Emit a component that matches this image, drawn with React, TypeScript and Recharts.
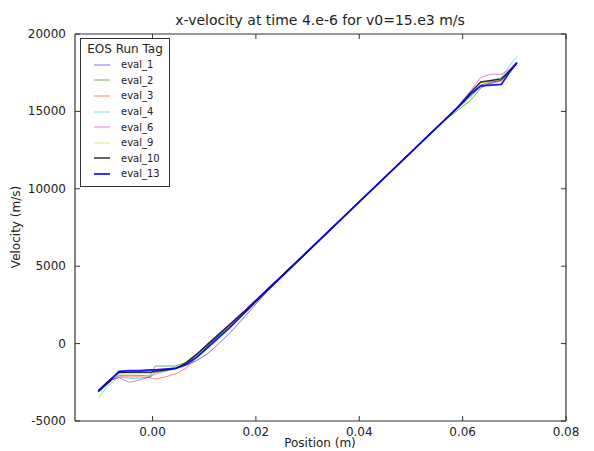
import { LineChart, Line, XAxis, YAxis } from "recharts";

// positions (m) shared by every run
const positions = [
  -0.0105, -0.0085, -0.0065, -0.0045, -0.0025, -0.0005, 0.0005, 0.0025, 0.0045,
  0.0065, 0.0085, 0.0105, 0.0125, 0.015, 0.018, 0.022, 0.03, 0.04, 0.05, 0.056,
  0.059, 0.0615, 0.0635, 0.0655, 0.0675, 0.069, 0.0705,
];

// x-velocity (m/s) per EOS run
const eval1 = [-3100, -2400, -1900, -1850, -1800, -1750, -1700, -1650, -1550, -1400, -1100, -700, -100, 700, 1800, 3300, 5900, 9150, 12350, 14250, 15200, 16000, 16600, 16800, 17000, 17600, 18200];
const eval2 = [-3050, -2500, -2050, -2050, -2050, -2100, -1450, -1450, -1450, -1200, -700, -150, 400, 1150, 2100, 3450, 5980, 9170, 12380, 14300, 15050, 15700, 16500, 16900, 17000, 17600, 18100];
const eval3 = [-3000, -2400, -2150, -2150, -2150, -2200, -2300, -2150, -1950, -1600, -900, -250, 450, 1250, 2200, 3450, 5970, 9160, 12370, 14300, 15250, 16100, 16700, 16900, 17000, 17500, 18100];
const eval4 = [-3500, -2700, -2150, -2250, -2250, -2150, -2000, -1800, -1650, -1400, -800, -200, 400, 1150, 2100, 3400, 5950, 9160, 12360, 14280, 15200, 15900, 16700, 17000, 17200, 17900, 18550];
const eval6 = [-3050, -2400, -2200, -2500, -2350, -2150, -1900, -1750, -1600, -1300, -700, -50, 550, 1300, 2200, 3450, 5980, 9170, 12370, 14300, 15300, 16300, 17200, 17400, 17400, 17700, 18200];
const eval9 = [-3050, -2400, -1950, -1950, -1950, -1950, -1850, -1750, -1600, -1300, -750, -150, 450, 1200, 2150, 3420, 5960, 9160, 12360, 14280, 15250, 16200, 16850, 17000, 17100, 17600, 18100];
const eval10 = [-3050, -2400, -1850, -1850, -1850, -1850, -1800, -1700, -1600, -1250, -700, -100, 500, 1250, 2150, 3420, 5960, 9160, 12360, 14280, 15250, 16200, 16900, 17000, 17100, 17600, 18100];
const eval13 = [-3100, -2500, -1800, -1750, -1750, -1700, -1700, -1650, -1600, -1350, -900, -300, 300, 1050, 2050, 3380, 5940, 9150, 12350, 14270, 15230, 16100, 16650, 16700, 16750, 17500, 18150];

const xTicks = [0, 0.02, 0.04, 0.06, 0.08];
const yTicks = [-5000, 0, 5000, 10000, 15000, 20000];

const series = [
  { key: "eval_1", values: eval1, color: "#0000ff", opacity: 0.55, width: 1 },
  { key: "eval_2", values: eval2, color: "#008000", opacity: 0.6, width: 1 },
  { key: "eval_3", values: eval3, color: "#ff0000", opacity: 0.5, width: 1 },
  { key: "eval_4", values: eval4, color: "#00bfbf", opacity: 0.5, width: 1 },
  { key: "eval_6", values: eval6, color: "#bf00bf", opacity: 0.5, width: 1 },
  { key: "eval_9", values: eval9, color: "#bfbf00", opacity: 0.5, width: 1 },
  { key: "eval_10", values: eval10, color: "#000000", opacity: 0.8, width: 1.5 },
  { key: "eval_13", values: eval13, color: "#0000ff", opacity: 0.9, width: 1.8 },
];

const data = positions.map((x, i) => {
  const row: Record<string, number> = { x };
  series.forEach((s) => (row[s.key] = s.values[i]));
  return row;
});

const font = "'DejaVu Sans', sans-serif";
const textColor = "#222";
const frame = "#333";

const BottomTick = (props: any) => {
  const { x, y, payload } = props;
  return (
    <g>
      <line x1={x} y1={y} x2={x} y2={y - 5} stroke={frame} />
      <text x={x} y={y + 15} textAnchor="middle" fontSize={12} fill={textColor} fontFamily={font}>
        {Number(payload.value).toFixed(2)}
      </text>
    </g>
  );
};

const TopTick = (props: any) => {
  const { x, y } = props;
  return <line x1={x} y1={y} x2={x} y2={y + 5} stroke={frame} />;
};

const LeftTick = (props: any) => {
  const { x, y, payload } = props;
  return (
    <g>
      <line x1={x} y1={y} x2={x + 5} y2={y} stroke={frame} />
      <text x={x - 9} y={y + 4} textAnchor="end" fontSize={12} fill={textColor} fontFamily={font}>
        {payload.value}
      </text>
    </g>
  );
};

const RightTick = (props: any) => {
  const { x, y } = props;
  return <line x1={x} y1={y} x2={x - 5} y2={y} stroke={frame} />;
};

const LegendBox = () => (
  <div
    style={{
      position: "absolute",
      left: 80,
      top: 38,
      border: `1.5px solid ${frame}`,
      background: "#fff",
      width: 88,
      padding: "2px 0 4px 0",
      fontFamily: font,
      color: textColor,
    }}
  >
    <div style={{ fontSize: 12, textAlign: "center", lineHeight: "16px" }}>EOS Run Tag</div>
    {series.map((s) => (
      <div key={s.key} style={{ display: "flex", alignItems: "center", height: 15.6 }}>
        <svg width={40} height={10}>
          <line
            x1={13}
            y1={5}
            x2={29}
            y2={5}
            stroke={s.color}
            strokeOpacity={s.opacity}
            strokeWidth={s.width}
          />
        </svg>
        <span style={{ fontSize: 10 }}>{s.key}</span>
      </div>
    ))}
  </div>
);

export default function App() {
  return (
    <div style={{ position: "absolute", left: 0, top: 0, width: 594, height: 451, background: "#fff" }}>
      <LineChart
        width={594}
        height={451}
        data={data}
        margin={{ top: 33, right: 27, bottom: 0, left: 0 }}
      >
        <text x={320} y={25} textAnchor="middle" fontSize={14} fill={textColor} fontFamily={font}>
          x-velocity at time 4.e-6 for v0=15.e3 m/s
        </text>
        <text x={320} y={447} textAnchor="middle" fontSize={12} fill={textColor} fontFamily={font}>
          Position (m)
        </text>
        <text
          x={20}
          y={227}
          textAnchor="middle"
          fontSize={12}
          fill={textColor}
          fontFamily={font}
          transform="rotate(-90 20 227)"
        >
          Velocity (m/s)
        </text>
        <XAxis
          xAxisId="bottom"
          dataKey="x"
          type="number"
          domain={[-0.015, 0.08]}
          ticks={xTicks}
          height={30}
          tickSize={0}
          tickMargin={0}
          tickLine={false}
          tick={<BottomTick />}
          axisLine={{ stroke: frame, strokeWidth: 1.2 }}
          allowDataOverflow
        />
        <XAxis
          xAxisId="top"
          orientation="top"
          dataKey="x"
          type="number"
          domain={[-0.015, 0.08]}
          ticks={xTicks}
          height={1}
          tickSize={0}
          tickMargin={0}
          tickLine={false}
          tick={<TopTick />}
          axisLine={{ stroke: frame, strokeWidth: 1.2 }}
          allowDataOverflow
        />
        <YAxis
          yAxisId="left"
          type="number"
          domain={[-5000, 20000]}
          ticks={yTicks}
          width={75}
          tickSize={0}
          tickMargin={0}
          tickLine={false}
          tick={<LeftTick />}
          axisLine={{ stroke: frame, strokeWidth: 1.2 }}
          allowDataOverflow
        />
        <YAxis
          yAxisId="right"
          orientation="right"
          type="number"
          domain={[-5000, 20000]}
          ticks={yTicks}
          width={1}
          tickSize={0}
          tickMargin={0}
          tickLine={false}
          tick={<RightTick />}
          axisLine={{ stroke: frame, strokeWidth: 1.2 }}
          allowDataOverflow
        />
        {series.map((s) => (
          <Line
            key={s.key}
            xAxisId="bottom"
            yAxisId="left"
            dataKey={s.key}
            type="linear"
            stroke={s.color}
            strokeOpacity={s.opacity}
            strokeWidth={s.width}
            dot={false}
            activeDot={false}
            isAnimationActive={false}
          />
        ))}
      </LineChart>
      <LegendBox />
    </div>
  );
}
